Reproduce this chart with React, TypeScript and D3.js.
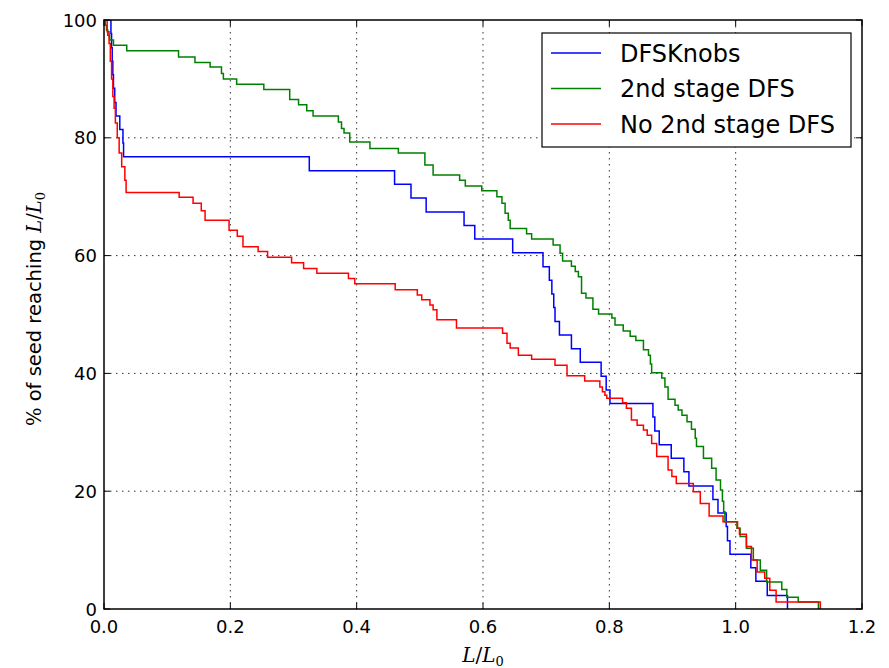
import React from 'react'
import * as d3 from 'd3'

// step data: [L/L0, % of seeds] -> value holds from x onwards
const dfsKnobs: [number, number][] = [
  [0, 100], [0.011, 97.7], [0.012, 95.3], [0.013, 93.0], [0.014, 90.7], [0.015, 88.4],
  [0.017, 86.0], [0.019, 83.7], [0.025, 81.4], [0.030, 79.1], [0.031, 76.8],
  [0.325, 74.4], [0.460, 72.1], [0.486, 69.8], [0.510, 67.4], [0.570, 65.1],
  [0.587, 62.8], [0.647, 60.5], [0.695, 58.1], [0.705, 55.8], [0.709, 53.5],
  [0.712, 51.2], [0.714, 48.8], [0.721, 46.5], [0.740, 44.2], [0.754, 41.9],
  [0.787, 39.5], [0.795, 37.2], [0.801, 34.9], [0.869, 32.6], [0.872, 30.2],
  [0.879, 27.9], [0.898, 25.6], [0.918, 23.3], [0.926, 20.9], [0.964, 18.6],
  [0.972, 16.3], [0.985, 14.0], [0.987, 11.6], [0.991, 9.3], [1.024, 7.0],
  [1.032, 4.7], [1.050, 2.3], [1.082, 0],
]

const secondStage: [number, number][] = [
  [0, 100], [0.002, 99.1], [0.004, 98.3], [0.006, 97.4], [0.009, 96.6], [0.015, 95.7],
  [0.036, 94.8], [0.118, 93.7], [0.144, 92.8], [0.168, 92.0], [0.186, 90.9],
  [0.189, 90.0], [0.210, 89.1], [0.253, 88.2], [0.294, 86.5], [0.308, 85.6],
  [0.321, 84.6], [0.331, 83.7], [0.371, 82.7], [0.376, 81.6], [0.380, 80.8],
  [0.389, 79.3], [0.421, 78.2], [0.466, 77.4], [0.508, 75.4], [0.521, 73.7],
  [0.563, 72.8], [0.572, 71.8], [0.598, 71.0], [0.622, 70.0], [0.630, 68.9],
  [0.635, 67.2], [0.640, 66.0], [0.643, 64.6], [0.669, 63.7], [0.677, 62.8],
  [0.711, 61.8], [0.722, 60.4], [0.726, 59.1], [0.740, 58.2], [0.746, 57.3],
  [0.751, 56.4], [0.756, 53.6], [0.763, 52.8], [0.774, 50.9], [0.783, 50.1],
  [0.804, 49.4], [0.809, 48.2], [0.822, 47.2], [0.833, 46.3], [0.842, 45.6],
  [0.854, 44.0], [0.862, 43.1], [0.865, 41.6], [0.867, 40.1], [0.883, 39.2],
  [0.888, 37.7], [0.893, 35.6], [0.904, 34.6], [0.909, 33.8], [0.915, 32.9],
  [0.923, 31.8], [0.930, 30.5], [0.936, 29.0], [0.938, 27.6], [0.949, 25.6],
  [0.962, 23.9], [0.969, 21.9], [0.976, 20.2], [0.979, 18.3], [0.981, 16.5],
  [0.983, 14.8], [1.002, 13.7], [1.007, 12.3], [1.017, 10.3], [1.028, 8.3],
  [1.039, 6.6], [1.049, 4.6], [1.073, 3.3], [1.081, 2.0], [1.099, 1.2], [1.131, 0],
]

const noSecondStage: [number, number][] = [
  [0, 100], [0.005, 98.0], [0.008, 96.0], [0.010, 93.0], [0.012, 90.0], [0.014, 87.0],
  [0.016, 85.0], [0.018, 82.5], [0.021, 80.0], [0.024, 77.4], [0.028, 75.1],
  [0.033, 72.8], [0.035, 70.7], [0.119, 69.9], [0.141, 68.9], [0.154, 67.6],
  [0.160, 66.0], [0.198, 64.3], [0.211, 63.3], [0.220, 61.5], [0.244, 60.7],
  [0.259, 59.7], [0.297, 58.8], [0.316, 57.8], [0.337, 57.0], [0.387, 56.1],
  [0.397, 55.2], [0.461, 54.2], [0.496, 53.3], [0.503, 52.5], [0.516, 51.6],
  [0.521, 50.8], [0.527, 49.1], [0.558, 47.7], [0.631, 46.8], [0.638, 45.1],
  [0.643, 44.3], [0.656, 43.1], [0.677, 42.4], [0.714, 41.4], [0.733, 39.6],
  [0.761, 38.7], [0.785, 37.7], [0.789, 36.9], [0.793, 36.3], [0.796, 35.8],
  [0.821, 35.0], [0.827, 34.1], [0.835, 32.1], [0.844, 31.2], [0.854, 30.4],
  [0.860, 29.5], [0.867, 28.1], [0.875, 25.9], [0.893, 23.6], [0.899, 22.5],
  [0.906, 21.3], [0.933, 19.9], [0.944, 17.9], [0.958, 15.8], [0.980, 14.8],
  [1.003, 13.7], [1.006, 12.7], [1.017, 10.6], [1.025, 8.3], [1.034, 6.3],
  [1.046, 5.2], [1.054, 3.2], [1.064, 1.2], [1.134, 0],
]

const seriesNames = ['DFSKnobs', '2nd stage DFS', 'No 2nd stage DFS']
const seriesColors = ['#0000ff', '#008000', '#ff0000']
const xTicks = [0, 0.2, 0.4, 0.6, 0.8, 1.0, 1.2]
const yTicks = [0, 20, 40, 60, 80, 100]

const W = 889
const H = 668
const left = 104
const right = 862
const top = 20
const bottom = 609

const sans = 'DejaVu Sans, sans-serif'
const serif = 'DejaVu Serif, Liberation Serif, serif'

const App = () => {
  const scaleX = d3.scaleLinear().domain([0, 1.2]).range([left, right])
  const scaleY = d3.scaleLinear().domain([0, 100]).range([bottom, top])

  const lineMaker = d3
    .line<[number, number]>()
    .curve(d3.curveStepAfter)
    .x((d) => scaleX(d[0]))
    .y((d) => scaleY(d[1]))

  const allSeries = [dfsKnobs, secondStage, noSecondStage]
  const fmtX = d3.format('.1f')

  return (
    <svg width={W} height={H} style={{ position: 'absolute', left: 0, top: 0, background: '#fff' }}>
      <defs>
        <clipPath id="plot">
          <rect x={left} y={top} width={right - left} height={bottom - top} />
        </clipPath>
      </defs>
      <rect x={0} y={0} width={W} height={H} fill="#fff" />

      {/* grid */}
      <g stroke="#000" strokeWidth={1} strokeDasharray="1.5,4.5" opacity={0.8}>
        {xTicks.slice(1, -1).map((t) => (
          <line key={'gx' + t} x1={scaleX(t)} x2={scaleX(t)} y1={top} y2={bottom} />
        ))}
        {yTicks.slice(1, -1).map((t) => (
          <line key={'gy' + t} x1={left} x2={right} y1={scaleY(t)} y2={scaleY(t)} />
        ))}
      </g>

      {/* series */}
      <g clipPath="url(#plot)">
        {allSeries.map((s, i) => (
          <path key={i} d={lineMaker(s) || ''} fill="none" stroke={seriesColors[i]} strokeWidth={1.5} />
        ))}
      </g>

      {/* ticks, inward on all sides */}
      <g stroke="#000" strokeWidth={1}>
        {xTicks.map((t) => (
          <g key={'tx' + t}>
            <line x1={scaleX(t)} x2={scaleX(t)} y1={bottom} y2={bottom - 6} />
            <line x1={scaleX(t)} x2={scaleX(t)} y1={top} y2={top + 6} />
          </g>
        ))}
        {yTicks.map((t) => (
          <g key={'ty' + t}>
            <line x1={left} x2={left + 6} y1={scaleY(t)} y2={scaleY(t)} />
            <line x1={right} x2={right - 6} y1={scaleY(t)} y2={scaleY(t)} />
          </g>
        ))}
      </g>

      <rect x={left} y={top} width={right - left} height={bottom - top} fill="none" stroke="#000" strokeWidth={1.5} />

      {/* tick labels */}
      <g fontFamily={sans} fontSize={18} fill="#000">
        {xTicks.map((t) => (
          <text key={'lx' + t} x={scaleX(t)} y={bottom + 24} textAnchor="middle">
            {fmtX(t)}
          </text>
        ))}
        {yTicks.map((t) => (
          <text key={'ly' + t} x={left - 7} y={scaleY(t) + 6.5} textAnchor="end">
            {t}
          </text>
        ))}
      </g>

      {/* axis labels */}
      <text x={(left + right) / 2} y={662} textAnchor="middle" fontFamily={serif} fontSize={20}>
        <tspan fontStyle="italic">L</tspan>
        <tspan>/</tspan>
        <tspan fontStyle="italic">L</tspan>
        <tspan fontSize={13} dy={4}>0</tspan>
      </text>
      <text
        transform={`translate(41,309) rotate(-90)`}
        textAnchor="middle"
        fontFamily={sans}
        fontSize={19.5}
      >
        <tspan fontFamily={serif}>%</tspan>
        <tspan> of seed reaching </tspan>
        <tspan fontFamily={serif} fontStyle="italic">L</tspan>
        <tspan fontFamily={serif}>/</tspan>
        <tspan fontFamily={serif} fontStyle="italic">L</tspan>
        <tspan fontFamily={serif} fontSize={13} dy={4}>0</tspan>
      </text>

      {/* legend */}
      <g>
        <rect x={542} y={33} width={309} height={114} fill="#fff" stroke="#000" strokeWidth={1.2} />
        {seriesNames.map((name, i) => (
          <g key={name}>
            <line x1={551} x2={601} y1={53 + i * 35.5} y2={53 + i * 35.5} stroke={seriesColors[i]} strokeWidth={1.5} />
            <text x={620} y={53 + i * 35.5 + 8.5} fontFamily={sans} fontSize={24} fill="#000">
              {name}
            </text>
          </g>
        ))}
      </g>
    </svg>
  )
}

export default App
